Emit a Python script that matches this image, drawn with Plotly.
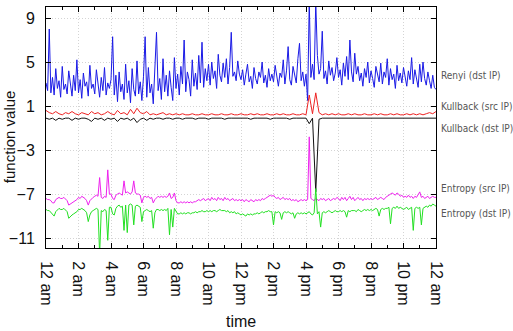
import plotly.graph_objects as go

# ---- data (hours since midnight, 0.1 h step for dense series, 0.2 h for Kullback) ----
renyi_dst = [
    3.1, 2.4, 8.0, 2.2, 3.6, 2.0, 4.4, 2.6, 3.3, 1.8,
    4.6, 2.5, 3.0, 2.1, 4.2, 2.9, 1.9, 3.8, 2.4, 5.2,
    2.2, 3.4, 1.7, 4.0, 2.8, 3.2, 1.9, 4.7, 2.6, 3.0,
    2.1, 4.3, 2.7, 1.8, 3.6, 2.4, 4.5, 2.0, 3.1, 2.6,
    3.4, 7.3, 2.0, 3.8, 1.4, 4.1, 2.3, 3.0, 1.6, 4.8,
    2.2, 3.3, 1.3, 4.4, 2.5, 1.9, 5.1, 2.1, 3.2, 1.5,
    3.7, 7.3, 1.8, 4.5, 2.2, 3.0, 1.2, 4.9, 7.7, 2.4,
    3.5, 1.6, 5.3, 2.3, 3.8, 1.9, 4.2, 2.7, 1.5, 5.4,
    2.6, 3.9, 2.0, 4.6, 3.0, 7.0, 2.3, 4.1, 3.4, 1.9,
    5.2, 2.8, 4.0, 2.5, 5.6, 3.1, 6.8, 2.7, 4.4, 3.3,
    4.8, 2.9, 5.0, 3.5, 4.2, 2.6, 5.7, 3.8, 3.2, 4.9,
    3.6, 5.3, 3.0, 4.5, 7.7, 3.7, 4.1, 3.3, 5.1, 3.9,
    3.4, 4.3, 2.9, 3.9, 4.8, 3.2, 3.7, 2.6, 4.5, 3.5,
    3.0, 4.1, 3.6, 5.0, 3.1, 3.8, 2.7, 4.4, 3.3, 3.9,
    3.2, 4.7, 3.5, 2.8, 4.0, 3.6, 5.2, 3.0, 4.2, 6.4,
    3.4, 2.9, 4.6, 3.7, 3.1, 5.3, 6.7, 3.3, 4.1, 2.8,
    3.9, 1.5, 10.5, 3.6, 4.8, 3.4, 10.5, 5.6, 3.9, 4.4,
    7.8, 3.5, 4.2, 3.0, 5.1, 3.8, 4.5, 3.3, 4.0, 5.4,
    3.6, 4.3, 2.9, 4.9, 3.7, 5.5, 3.4, 7.0, 4.1, 3.2,
    5.8, 3.9, 4.6, 3.3, 4.0, 2.8, 4.4, 3.6, 5.0, 3.1,
    4.2, 3.5, 2.7, 4.6, 3.8, 3.2, 4.9, 3.0, 4.1, 3.6,
    5.3, 2.9, 4.4, 3.4, 3.9, 2.6, 4.7, 3.3, 4.0, 3.1,
    4.5, 3.7, 2.8, 4.2, 3.4, 5.4, 3.0, 4.3, 3.6, 2.7,
    4.8, 3.2, 5.0, 3.5, 2.9, 4.1, 3.3, 2.6, 3.8, 2.7, 2.5,
]

kullback_src = [
    0.6, 0.4, 0.3, 0.5, 0.3, 0.2, 0.4, 0.3, 0.5, 0.3,
    0.2, 0.4, 0.3, 0.2, 0.5, 0.3, 0.4, 0.2, 0.3, 0.5,
    0.3, 0.2, 0.6, 0.3, 0.4, 0.2, 0.7, 0.3, 0.8, 0.4,
    0.3, 0.5, 0.2, 0.3, 0.2, 0.3, 0.4, 0.2, 0.3, 0.2,
    0.3, 0.2, 0.3, 0.2, 0.2, 0.3, 0.2, 0.2, 0.3, 0.2,
    0.2, 0.3, 0.2, 0.2, 0.3, 0.2, 0.2, 0.3, 0.2, 0.2,
    0.3, 0.2, 0.2, 0.3, 0.2, 0.3, 0.2, 0.2, 0.3, 0.2,
    0.2, 0.3, 0.2, 0.3, 0.2, 0.2, 0.3, 0.2, 0.2, 0.3,
    0.2, 2.0, 0.3, 2.2, 0.4, 0.2, 0.3, 0.2, 0.3, 0.2,
    0.3, 0.2, 0.2, 0.3, 0.2, 0.3, 0.2, 0.2, 0.3, 0.2,
    0.2, 0.3, 0.2, 0.3, 0.2, 0.2, 0.3, 0.2, 0.3, 0.2,
    0.2, 0.3, 0.2, 0.3, 0.2, 0.3, 0.2, 0.3, 0.4, 0.3, 0.5,
]

kullback_dst = [
    -0.1, -0.2, -0.1, -0.3, -0.1, -0.2, -0.1, -0.1, -0.3, -0.1,
    -0.2, -0.1, -0.1, -0.2, -0.4, -0.1, -0.2, -0.1, -0.3, -0.1,
    -0.2, -0.1, -0.4, -0.1, -0.2, -0.1, -0.3, -0.1, -0.5, -0.2,
    -0.1, -0.3, -0.1, -0.2, -0.1, -0.1, -0.2, -0.1, -0.1, -0.2,
    -0.1, -0.1, -0.2, -0.1, -0.1, -0.1, -0.2, -0.1, -0.1, -0.1,
    -0.2, -0.1, -0.1, -0.1, -0.1, -0.2, -0.1, -0.1, -0.1, -0.1,
    -0.1, -0.1, -0.1, -0.2, -0.1, -0.1, -0.1, -0.1, -0.1, -0.2,
    -0.1, -0.1, -0.1, -0.1, -0.1, -0.2, -0.1, -0.1, -0.1, -0.1,
    -0.1, -0.6, -0.1, -6.8, -0.2, -0.1, -0.1, -0.1, -0.1, -0.1,
    -0.1, -0.1, -0.1, -0.1, -0.1, -0.1, -0.1, -0.1, -0.1, -0.1,
    -0.1, -0.1, -0.1, -0.1, -0.1, -0.1, -0.1, -0.1, -0.1, -0.1,
    -0.1, -0.1, -0.1, -0.1, -0.1, -0.1, -0.1, -0.1, -0.1, -0.1, -0.1,
]

entropy_src = [
    -7.4, -7.5, -7.5, -7.6, -7.8, -7.8, -7.5, -7.4, -7.3, -7.4,
    -7.4, -7.3, -7.5, -7.6, -8.0, -7.9, -7.8, -7.7, -7.6, -7.5,
    -7.3, -7.4, -7.2, -7.3, -7.4, -7.6, -8.0, -7.6, -7.4, -7.3,
    -7.2, -7.1, -7.2, -5.5, -7.3, -7.4, -7.2, -7.3, -4.8, -7.0,
    -7.0, -7.4, -7.5, -7.1, -7.0, -6.9, -7.0, -7.1, -5.8, -6.9,
    -6.8, -6.9, -7.0, -6.8, -5.8, -6.9, -7.0, -7.0, -7.1, -7.8,
    -7.3, -7.2, -7.3, -7.2, -7.4, -7.3, -7.8, -7.5, -7.3, -7.2,
    -7.3, -7.2, -7.3, -7.2, -7.3, -7.2, -6.9, -7.4, -7.3, -6.9,
    -7.6, -7.8, -7.8, -7.7, -7.8, -7.7, -7.8, -7.7, -7.8, -7.7,
    -7.8, -7.7, -7.7, -7.6, -7.5, -7.6, -7.5, -7.4, -7.6, -7.5,
    -7.4, -7.6, -7.3, -7.5, -7.4, -7.6, -7.3, -7.5, -7.4, -7.6,
    -7.3, -7.5, -7.4, -7.6, -7.5, -7.4, -7.6, -7.5, -7.6, -7.5,
    -7.6, -7.5, -7.7, -7.5, -7.6, -7.7, -7.5, -7.6, -7.7, -7.5,
    -7.6, -7.5, -7.6, -7.4, -7.5, -7.4, -7.3, -7.2, -7.1, -7.2,
    -7.1, -7.3, -7.4, -7.3, -7.5, -7.4, -7.3, -7.5, -7.4, -7.5,
    -7.4, -7.6, -7.5, -7.6, -7.5, -7.7, -7.6, -7.5, -7.6, -7.5,
    -7.6, -7.5, -1.8, -7.4, -7.5, -7.6, -7.4, -7.5, -7.6, -7.4,
    -7.5, -7.4, -7.6, -7.5, -7.4, -7.6, -7.5, -7.4, -7.5, -7.3,
    -7.4, -7.6, -7.3, -7.5, -7.3, -7.6, -7.4, -7.2, -7.5, -7.3,
    -7.6, -7.4, -7.3, -7.5, -7.4, -7.6, -7.4, -7.5, -7.4, -7.5,
    -7.4, -7.5, -7.4, -7.3, -7.5, -7.4, -7.3, -7.4, -7.5, -7.3,
    -7.2, -7.1, -7.0, -6.9, -7.0, -7.1, -6.9, -7.0, -7.2, -7.1,
    -7.3, -7.2, -7.3, -7.1, -7.3, -7.2, -7.4, -7.2, -7.3, -7.1,
    -6.8, -7.3, -7.2, -7.4, -7.3, -7.2, -7.4, -7.3, -7.2, -7.3, -7.3,
]

entropy_dst = [
    -8.4, -8.5, -8.5, -8.7, -8.9, -9.0, -8.6, -8.4, -8.3, -8.4,
    -8.4, -8.3, -8.5, -8.6, -9.2, -9.0, -8.9, -8.8, -8.7, -8.6,
    -8.4, -8.4, -8.3, -8.4, -8.5, -8.7, -9.5, -8.9, -8.6, -8.5,
    -8.4, -8.3, -8.4, -12.5, -8.5, -8.6, -8.4, -8.5, -11.2, -8.2,
    -8.2, -8.8, -8.9, -8.3, -8.1, -8.0, -8.2, -8.1, -10.3, -8.0,
    -10.5, -8.0, -7.9, -8.0, -9.8, -8.1, -8.0, -8.1, -8.2, -9.5,
    -8.6, -8.5, -8.4, -8.5, -8.6, -8.5, -10.1, -8.7, -8.4, -8.4,
    -8.5, -8.4, -8.5, -8.4, -8.5, -8.3, -10.7, -8.4, -10.0, -8.3,
    -8.6, -8.8, -8.8, -8.7, -8.8, -8.7, -8.8, -8.7, -8.7, -8.8,
    -8.7, -8.7, -8.6, -8.7, -8.6, -8.6, -8.5, -8.6, -8.6, -8.5,
    -8.6, -8.5, -8.6, -8.5, -8.5, -8.6, -8.5, -8.4, -8.5, -8.5,
    -8.5, -8.6, -8.5, -8.7, -8.6, -8.7, -8.6, -8.8, -8.7, -8.8,
    -8.9, -8.8, -8.9, -9.0, -8.8, -8.9, -8.8, -8.9, -8.8, -8.8,
    -8.7, -8.8, -8.7, -8.6, -8.7, -8.6, -8.6, -8.5, -8.6, -8.6,
    -9.8, -8.6, -8.7, -8.6, -8.7, -9.3, -8.7, -8.6, -8.7, -8.6,
    -8.7, -8.8, -8.7, -9.2, -8.8, -8.7, -8.8, -8.7, -8.8, -8.7,
    -8.8, -8.7, -8.6, -8.8, -8.9, -8.7, -6.5, -8.8, -8.6, -10.0,
    -8.7, -8.6, -8.7, -8.6, -8.5, -8.6, -8.7, -8.6, -8.5, -8.6,
    -8.6, -8.5, -8.6, -8.5, -8.6, -9.1, -8.5, -8.6, -8.5, -8.5,
    -8.5, -8.6, -8.4, -8.5, -8.6, -8.5, -8.4, -8.5, -8.4, -8.5,
    -8.4, -8.5, -8.4, -8.3, -8.4, -9.0, -8.4, -8.3, -8.4, -8.3,
    -8.3, -8.2, -9.7, -8.3, -8.2, -8.3, -8.1, -8.3, -8.2, -8.3,
    -8.4, -8.3, -8.2, -8.4, -8.3, -8.2, -10.3, -8.3, -8.2, -8.3,
    -8.2, -9.8, -8.3, -8.2, -8.1, -8.2, -8.0, -8.1, -7.9, -8.0, -8.1,
]

tick_hours = [0, 2, 4, 6, 8, 10, 12, 14, 16, 18, 20, 22, 24]
tick_labels = ["12 am", "2 am", "4 am", "6 am", "8 am", "10 am", "12 pm",
               "2 pm", "4 pm", "6 pm", "8 pm", "10 pm", "12 am"]
y_ticks = [9, 5, 1, -3, -7, -11]

series_names = ["Renyi (dst IP)", "Kullback (src IP)", "Kullback (dst IP)",
                "Entropy (src IP)", "Entropy (dst IP)"]
label_y = [3.8, 1.0, -1.0, -6.5, -8.8]


def hours_for(values):
    n = len(values)
    return [24.0 * i / (n - 1) for i in range(n)]


fig = go.Figure()
specs = [
    (renyi_dst, "#1a1ae6"),
    (kullback_src, "#ee2222"),
    (kullback_dst, "#111111"),
    (entropy_src, "#ee22ee"),
    (entropy_dst, "#22e022"),
]
for (vals, col), name in zip(specs, series_names):
    fig.add_trace(go.Scatter(x=hours_for(vals), y=vals, mode="lines", name=name,
                             line=dict(color=col, width=1), showlegend=False))

for name, yv in zip(series_names, label_y):
    fig.add_annotation(x=1.0, xref="paper", y=yv, yref="y", text=name,
                       showarrow=False, xanchor="left", xshift=3,
                       font=dict(family="Liberation Sans Narrow, DejaVu Sans Condensed, Liberation Sans",
                                 size=10, color="#555555"))

fig.add_annotation(x=0, xref="paper", y=0.46, yref="paper", text="function value",
                   showarrow=False, textangle=-90, xanchor="center", yanchor="middle",
                   xshift=-37, font=dict(family="Liberation Sans", size=15, color="#111111"))
fig.add_annotation(x=0.5, xref="paper", y=-0.307, yref="paper", text="time",
                   showarrow=False, xanchor="center", yanchor="middle",
                   font=dict(family="Liberation Sans", size=16, color="#111111"))

grid_style = dict(showgrid=True, gridcolor="#d4d4d4", griddash="1px,2px", gridwidth=1)

fig.update_xaxes(range=[0, 24], tickvals=tick_hours, ticktext=tick_labels, tickangle=90,
                 ticks="inside", ticklen=5, tickcolor="black", showline=True, linecolor="black",
                 linewidth=1, mirror="allticks", zeroline=False, ticklabelstandoff=9,
                 minor=dict(dtick=1, tick0=0, ticks="inside", ticklen=3, tickcolor="black",
                            showgrid=False),
                 tickfont=dict(family="Liberation Sans", size=16, color="#111111"),
                 **grid_style)
fig.update_yaxes(range=[-11.9, 10.0], tickvals=y_ticks, ticks="inside", ticklen=5,
                 tickcolor="black", showline=True, linecolor="black", linewidth=1,
                 mirror="allticks", zeroline=False, ticklabelstandoff=7,
                 tickfont=dict(family="Liberation Sans", size=16, color="#111111"),
                 **grid_style)

fig.update_layout(width=513, height=331, margin=dict(l=46, r=77, t=7, b=83),
                  plot_bgcolor="white", paper_bgcolor="white")

fig.write_html("out.html")
